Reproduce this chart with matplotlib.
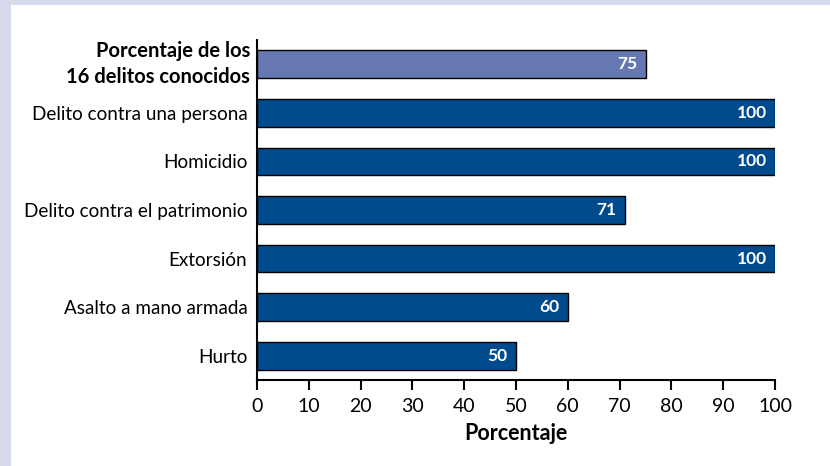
import matplotlib
matplotlib.use("Agg")
import matplotlib.pyplot as plt
from matplotlib.patches import Rectangle

categorias = ["Porcentaje de los\n16 delitos conocidos", "Delito contra una persona", "Homicidio",
              "Delito contra el patrimonio", "Extorsión", "Asalto a mano armada", "Hurto"]
valores = [75, 100, 100, 71, 100, 60, 50]
colores = ["#6678b1", "#004a8e", "#004a8e", "#004a8e", "#004a8e", "#004a8e", "#004a8e"]
ticks_x = [0, 10, 20, 30, 40, 50, 60, 70, 80, 90, 100]

plt.rcParams['font.family'] = ['Lato', 'DejaVu Sans']

fig = plt.figure(figsize=(8.3, 4.66), dpi=100)
fig.patch.set_facecolor("#d7d9ed")
fig.patches.append(Rectangle((11 / 830, 0), 1, 1 - 5 / 466, transform=fig.transFigure,
                             facecolor="white", edgecolor="none", zorder=-5))

ax = fig.add_axes([257 / 830, 1 - 380 / 466, 518 / 830, 340 / 466])
ax.set_facecolor("none")
pos = list(range(len(categorias)))[::-1]
ax.barh(pos, valores, height=0.57, color=colores, edgecolor="black", linewidth=1)
for p, v in zip(pos, valores):
    ax.text(v - 1.6, p, str(v), color="white", fontweight="bold", fontsize=12.5,
            ha="right", va="center")

ax.set_xlim(0, 100)
ax.set_ylim(-0.5, 6.5)
ax.set_xticks(ticks_x)
ax.tick_params(axis="x", length=7, width=1.5, labelsize=14, pad=6)
ax.set_yticks(pos[1:])
ax.set_yticklabels(categorias[1:], fontsize=13.6)
ax.tick_params(axis="y", length=0, pad=7)
# first label: bold, two lines
ax.annotate(categorias[0], xy=(0, pos[0]), xycoords=("axes fraction", "data"),
            xytext=(-7, 0), textcoords="offset pixels", ha="right", va="center",
            fontsize=14.5, fontweight="bold", linespacing=1.35)
for s in ["top", "right"]:
    ax.spines[s].set_visible(False)
for s in ["left", "bottom"]:
    ax.spines[s].set_linewidth(1.5)
ax.set_xlabel("Porcentaje", fontweight="bold", fontsize=15.5, labelpad=6)

fig.savefig("out.png", dpi=100, facecolor=fig.get_facecolor())
